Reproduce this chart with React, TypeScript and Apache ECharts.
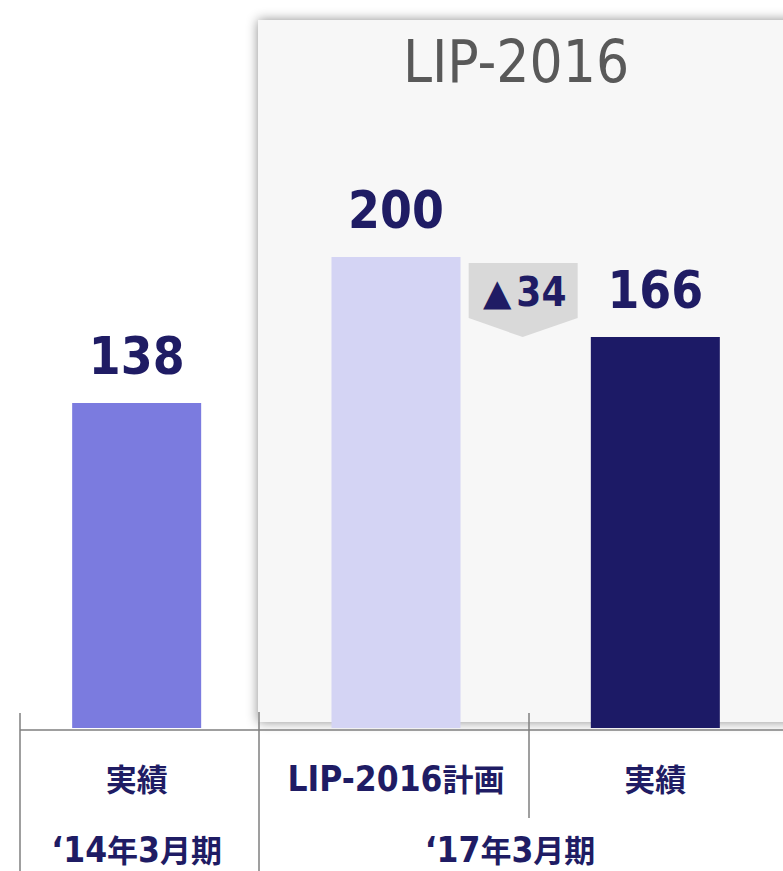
import React, { useEffect, useRef } from "react";
import * as echarts from "echarts";

const categories = ["実績", "LIP-2016計画", "実績"];
const values = [138, 200, 166];
const barColors = ["#7b7bdf", "#d4d4f4", "#1c1a66"];
const periods = ["‘14年3月期", "‘17年3月期"];
const panelTitle = "LIP-2016";

const NAVY = "#1f1c64";
const LATIN = '"DejaVu Sans Condensed", "DejaVu Sans", sans-serif';
const CJK = '"Noto Sans CJK JP", sans-serif';

function toRich(s: string): string {
  const parts = s.match(/[\u3000-\u9fff]+|[^\u3000-\u9fff]+/g) || [];
  return parts
    .map((p) => (/[\u3000-\u9fff]/.test(p) ? `{c|${p}}` : `{a|${p}}`))
    .join("");
}

const labelRich = {
  a: { fontFamily: LATIN, fontWeight: "bold", fontSize: 35, color: NAVY, fill: NAVY, lineHeight: 40 },
  c: { fontFamily: CJK, fontWeight: "bold", fontSize: 31, color: NAVY, fill: NAVY, lineHeight: 40, padding: [0, 0, 3, 0] },
};

export default function App() {
  const ref = useRef<HTMLDivElement>(null);
  useEffect(() => {
    document.body.style.margin = "0";
    const chart = echarts.init(ref.current!, null, { renderer: "svg" });
    chart.setOption({
      animation: false,
      backgroundColor: "#ffffff",
      grid: { left: 7, width: 778, top: 257, bottom: 143, outerBoundsMode: "none" },
      xAxis: {
        type: "category",
        data: categories,
        axisLine: { show: false },
        axisTick: { show: false },
        axisLabel: {
          margin: 31,
          formatter: (v: string) => toRich(v),
          rich: labelRich,
        },
      },
      yAxis: { type: "value", min: 0, max: 200, show: false },
      series: [
        {
          type: "bar",
          barWidth: 129,
          z: 5,
          data: values.map((v, i) => ({ value: v, itemStyle: { color: barColors[i] } })),
          label: {
            show: true,
            position: "top",
            distance: 21,
            fontFamily: LATIN,
            fontWeight: "bold",
            fontSize: 51,
            color: NAVY,
          },
        },
      ],
    });

    const px = (i: number, v: number) => chart.convertToPixel({ seriesIndex: 0 }, [i, v]) as number[];
    const [x0, yBase] = px(0, 0);
    const [x1, yPlan] = px(1, values[1]);
    const [x2, yAct] = px(2, values[2]);
    const mid = (x1 + x2) / 2 - 3;
    const delta = values[1] - values[2];
    const lineStyle = { stroke: "#7f7f7f", lineWidth: 1.5 };

    chart.setOption({
      graphic: [
        {
          type: "rect",
          z: 0,
          shape: { x: 258, y: 20, width: 560, height: 702 },
          style: { fill: "#f7f7f7", shadowBlur: 12, shadowColor: "rgba(0,0,0,0.45)" },
        },
        {
          type: "text",
          z: 1,
          style: {
            text: panelTitle,
            x: 516,
            y: 62,
            align: "center",
            verticalAlign: "middle",
            fontFamily: LATIN,
            fontSize: 58,
            fill: "#595959",
          },
        },
        {
          type: "polygon",
          z: 3,
          shape: {
            points: [
              [mid - 54, yPlan + 6],
              [mid + 55, yPlan + 6],
              [mid + 55, yAct - 19],
              [mid, yAct],
              [mid - 54, yAct - 19],
            ],
          },
          style: { fill: "#d9d9d9" },
        },
        {
          type: "text",
          z: 4,
          style: {
            text: `{t|▲}{n|${delta}}`,
            x: mid + 2,
            y: yPlan + 35,
            align: "center",
            verticalAlign: "middle",
            rich: {
              t: { fontFamily: '"DejaVu Sans", sans-serif', fontSize: 37, fill: NAVY, padding: [0, 5, 0, 0] },
              n: { fontFamily: LATIN, fontWeight: "bold", fontSize: 40, fill: NAVY },
            },
          },
        },
        { type: "line", z: 6, shape: { x1: 20, y1: yBase + 2, x2: 783, y2: yBase + 2 }, style: lineStyle },
        { type: "line", z: 6, shape: { x1: 20, y1: 713, x2: 20, y2: 871 }, style: lineStyle },
        { type: "line", z: 6, shape: { x1: 259, y1: 712, x2: 259, y2: 871 }, style: lineStyle },
        { type: "line", z: 6, shape: { x1: 529, y1: 713, x2: 529, y2: 818 }, style: lineStyle },
        {
          type: "text",
          z: 6,
          style: {
            text: toRich(periods[0]),
            x: x0,
            y: 850,
            align: "center",
            verticalAlign: "middle",
            rich: labelRich,
          },
        },
        {
          type: "text",
          z: 6,
          style: {
            text: toRich(periods[1]),
            x: 510,
            y: 850,
            align: "center",
            verticalAlign: "middle",
            rich: labelRich,
          },
        },
      ],
    });
    return () => chart.dispose();
  }, []);
  return <div ref={ref} style={{ width: 783, height: 871 }} />;
}
